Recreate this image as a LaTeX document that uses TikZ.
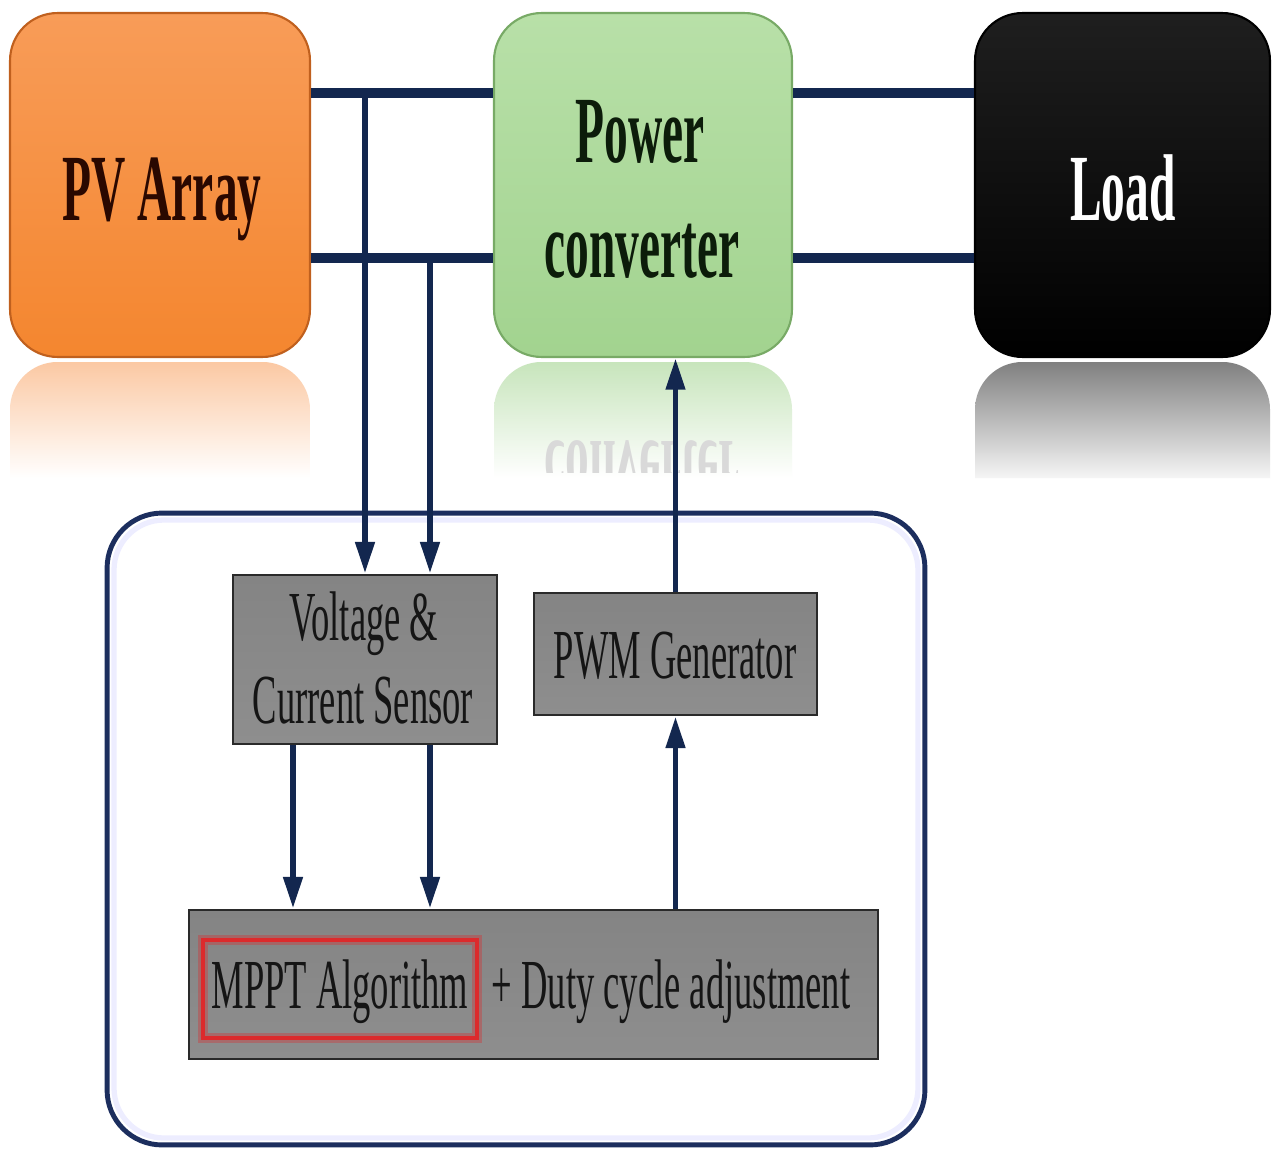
\documentclass[tikz,border=0pt]{standalone}
\usepackage{fontspec}
\setmainfont{Liberation Serif}
\newfontfamily\condreg[FakeStretch=0.52]{Liberation Serif}
\newfontfamily\condbold[FakeStretch=0.5]{Liberation Serif}
\usetikzlibrary{arrows.meta}
\definecolor{navyc}{HTML}{13274F}
\definecolor{bordnavy}{HTML}{1C2E5E}
\definecolor{orangeT}{HTML}{F89C58}
\definecolor{orangeB}{HTML}{F4862F}
\definecolor{orangeE}{HTML}{C0601E}
\definecolor{greenT}{HTML}{B8E0A8}
\definecolor{greenB}{HTML}{A2D38F}
\definecolor{greenE}{HTML}{78AA66}
\definecolor{grayT}{HTML}{848484}
\definecolor{grayM}{HTML}{9A9A9A}
\definecolor{grayB}{HTML}{8E8E8E}
\definecolor{grayE}{HTML}{2A2A2A}
\definecolor{txtdark}{HTML}{151515}
\definecolor{pvtxt}{HTML}{2A0800}
\definecolor{cvtxt}{HTML}{0C1C0A}
\definecolor{redbox}{HTML}{DC2A2C}
\begin{document}
\begin{tikzpicture}[x=0.02cm,y=-0.02cm,
  blk/.style={rounded corners=0.95cm, inner sep=0pt, line width=1.2pt, minimum height=6.88cm},
  gbox/.style={draw=grayE, line width=1.6pt, top color=grayT, middle color=grayM, bottom color=grayB, inner sep=0pt},
  bus/.style={line width=5.7pt, draw=navyc},
  sigline/.style={line width=3.4pt, draw=navyc},
  sig/.style={sigline, -{Triangle[length=18pt,width=10.5pt]}},
  btxt/.style={font=\condbold\bfseries\fontsize{54pt}{60pt}\selectfont, anchor=base, inner sep=0pt},
  rtxt/.style={font=\condreg\fontsize{40pt}{46pt}\selectfont, anchor=base, inner sep=0pt, text=txtdark}]
\useasboundingbox (0,0) rectangle (1277,1149);
\fill[white] (0,0) rectangle (1277,1149);

% reflections
\shade[top color=orangeT!55!white, bottom color=white] (10,478) {[rounded corners=0.95cm] -- (10,362) -- (310,362)} -- (310,478) -- cycle;
\shade[top color=greenB!60!white, bottom color=white] (494,478) {[rounded corners=0.95cm] -- (494,362) -- (792,362)} -- (792,478) -- cycle;
\shade[top color=black!50, bottom color=black!4] (975,478) {[rounded corners=0.95cm] -- (975,362) -- (1270,362)} -- (1270,478) -- cycle;
\begin{scope}
\clip (494,362) rectangle (792,472);
\node[btxt, yscale=-1, text=black!15] (convrefl) at (642,441) {converter};
\end{scope}

% big enclosing box
\node[draw=bordnavy, line width=2.8pt, rounded corners=1.1cm, minimum width=16.36cm, minimum height=12.64cm, inner sep=0pt] (ctrl) at (516,829) {};
\draw[blue!7, line width=3pt, rounded corners=1cm] (114,520) rectangle (918,1138);

% top blocks
\node[blk, draw=orangeE, top color=orangeT, bottom color=orangeB, minimum width=6cm] (pv) at (160,185) {};
\node[blk, draw=greenE, top color=greenT, bottom color=greenB, minimum width=5.96cm] (conv) at (643,185) {};
\node[blk, draw=black, top color=black!88, bottom color=black, minimum width=5.9cm] (load) at (1122.5,185) {};

\node[btxt, text=pvtxt] (pvt) at (162,220) {PV Array};
\node[btxt, text=cvtxt] (cvt1) at (640,162) {Power};
\node[btxt, text=cvtxt] (cvt2) at (642,277) {converter};
\node[btxt, text=white] (ldt) at (1123,220) {Load};

% lower blocks
\node[gbox, minimum width=5.28cm, minimum height=3.38cm] (sensor) at (365,659.5) {};
\node[gbox, minimum width=5.66cm, minimum height=2.44cm] (pwm) at (675.5,654) {};
\node[gbox, minimum width=13.78cm, minimum height=2.98cm] (mppt) at (533.5,984.5) {};
\draw[redbox, opacity=0.35, line width=6pt] (203,940) rectangle (477,1038);
\node[draw=redbox, line width=2.6pt, minimum width=5.48cm, minimum height=1.96cm, inner sep=0pt] (alg) at (340,989) {};

\node[rtxt] (st1) at (364,640) {Voltage \&};
\node[rtxt] (st2) at (363,723) {Current Sensor};
\node[rtxt] (pwt) at (675,678) {PWM Generator};
\node[rtxt] (algt) at (340,1008) {MPPT Algorithm};
\node[rtxt] (dct) at (671,1008) {+ Duty cycle adjustment};

% bus lines
\coordinate (ytop) at (0,93);
\coordinate (ybot) at (0,258);
\draw[bus] (pv.east |- ytop) -- (conv.west |- ytop);
\draw[bus] (pv.east |- ybot) -- (conv.west |- ybot);
\draw[bus] (conv.east |- ytop) -- (load.west |- ytop);
\draw[bus] (conv.east |- ybot) -- (load.west |- ybot);

% taps to sensor
\coordinate (tapA) at (365,93);
\coordinate (tapB) at (430,258);
\draw[sig] (tapA) -- (sensor.north -| tapA);
\draw[sig] (tapB) -- (sensor.north -| tapB);

% sensor to MPPT
\coordinate (xa) at (293,0);
\coordinate (xb) at (430,0);
\draw[sig] (sensor.south -| xa) -- (mppt.north -| xa);
\draw[sig] (sensor.south -| xb) -- (mppt.north -| xb);

% MPPT to PWM, PWM to converter
\draw[sig] (mppt.north -| pwm.south) -- (pwm.south);
\draw[sig] (pwm.north) -- (conv.south -| pwm.north);
\end{tikzpicture}
\end{document}
